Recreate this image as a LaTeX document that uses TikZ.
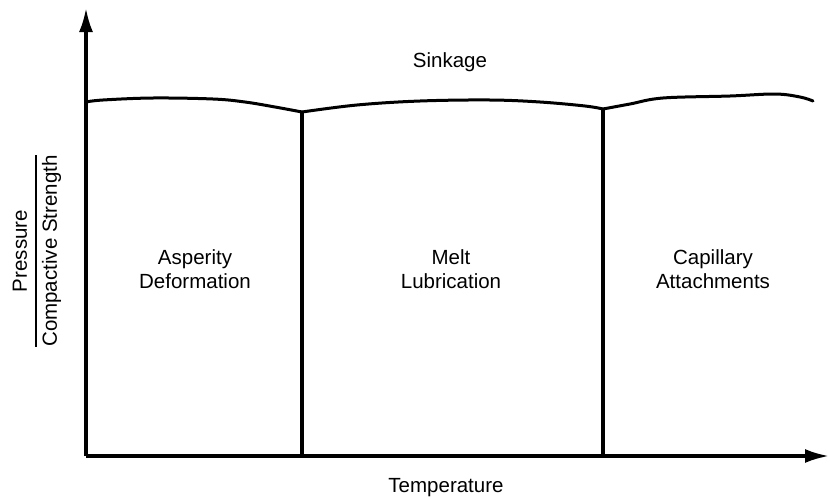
\documentclass[tikz,border=0pt]{standalone}
\usepackage{amsmath}
\usepackage{fontspec}
\setmainfont{Liberation Sans}
\usetikzlibrary{arrows.meta,positioning}

\tikzset{
  lbl/.style={font=\fontsize{20.5}{24}\selectfont, inner sep=0pt, align=center},
  axis/.style={line width=3.2pt, -{Latex[length=24pt,width=14pt]}},
  divider/.style={line width=3.2pt},
  boundary/.style={line width=3pt, line join=round, line cap=round}
}

\begin{document}
\begin{tikzpicture}[x=1pt, y=-1pt]
\useasboundingbox (0,0) rectangle (830,498);

% Axes
\coordinate (O) at (86,456);
\coordinate (ytop) at (86,8);
\coordinate (xend) at (829,456);
\draw[axis] (O) -- (ytop);
\draw[axis] (O) -- (xend);

% Dividers
\coordinate (d1top) at (302,112);
\coordinate (d1bot) at (302,456);
\coordinate (d2top) at (603,109);
\coordinate (d2bot) at (603,456);
\draw[divider] (d1bot) -- (d1top);
\draw[divider] (d2bot) -- (d2top);

% Sinkage boundary
\draw[boundary] plot[smooth, tension=0.6] coordinates
  {(86,102) (103,100) (153,98) (213,99) (245,102) (275,107) (302,112)};
\draw[boundary] plot[smooth, tension=0.6] coordinates
  {(302,112) (357,105) (420,101) (490,100) (540,102) (585,106) (603,109)};
\draw[boundary] plot[smooth, tension=0.6] coordinates
  {(603,109) (630,104) (663,98) (730,96) (775,94) (800,97) (813,101)};

% Labels
\node[lbl, anchor=base] (sinkage) at (450,67) {Sinkage};
\node[lbl] (asperity) at (195,269) {Asperity\\Deformation};
\node[lbl] (melt) at (451,269) {Melt\\Lubrication};
\node[lbl] (capillary) at (713,269) {Capillary\\Attachments};
\node[lbl, anchor=base] (temp) at (446,492) {Temperature};
\node[lbl, rotate=90] (ylabel) at (37,251)
  {$\genfrac{}{}{1.8pt}{0}{\mbox{Pressure}}{\mbox{Compactive Strength}}$};
\end{tikzpicture}
\end{document}
